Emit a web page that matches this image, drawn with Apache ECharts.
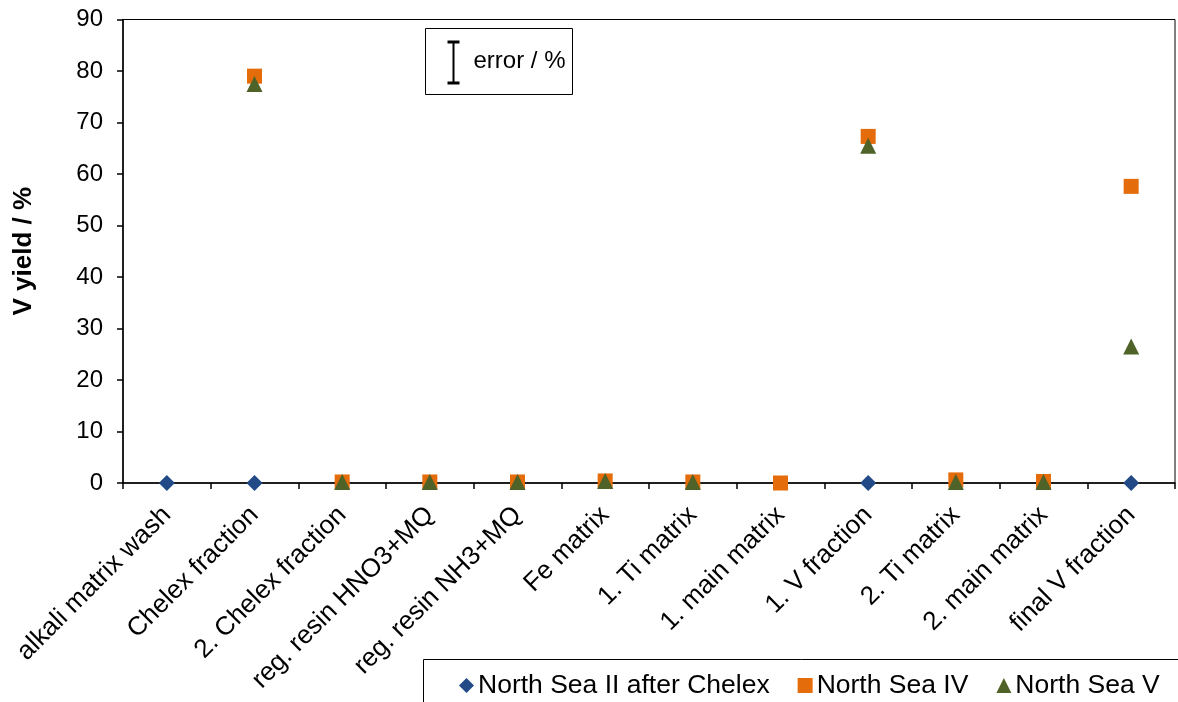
<!DOCTYPE html>
<html>
<head>
<meta charset="utf-8">
<script src="https://cdn.jsdelivr.net/npm/echarts@6/dist/echarts.min.js"></script>
<style>
  html, body { margin: 0; padding: 0; background: #fff; }
  #chart { width: 1178px; height: 702px; }
</style>
</head>
<body>
<div id="chart"></div>
<script>
// Separation steps along the x axis
const steps = [
  'alkali matrix wash', 'Chelex fraction', '2. Chelex fraction',
  'reg. resin HNO3+MQ', 'reg. resin NH3+MQ', 'Fe matrix',
  '1. Ti matrix', '1. main matrix', '1. V fraction',
  '2. Ti matrix', '2. main matrix', 'final V fraction'
];

// V yield (%) per step; null where the sample was not measured
const northSeaII = [0, 0, null, null, null, null, null, null, 0, null, null, 0];
const northSeaIV = [null, 79.0, 0.2, 0.2, 0.2, 0.4, 0.2, 0.0, 67.3, 0.6, 0.3, 57.6];
const northSeaV  = [null, 77.5, 0.2, 0.2, 0.2, 0.4, 0.2, null, 65.5, 0.2, 0.2, 26.5];

const yTicks = { min: 0, max: 90, interval: 10 };

const FONT = 'Liberation Sans, Arial, sans-serif';

const chart = echarts.init(document.getElementById('chart'), null, { renderer: 'canvas' });

chart.setOption({
  animation: false,
  backgroundColor: '#fff',
  grid: {
    left: 123, right: 3, top: 19.5, bottom: 219,
    show: true, borderColor: '#000', borderWidth: 1, backgroundColor: 'transparent'
  },
  xAxis: {
    type: 'category',
    data: steps,
    boundaryGap: true,
    axisLine: { lineStyle: { color: '#000', width: 1.5 } },
    axisTick: { show: true, inside: false, length: 6, alignWithLabel: false, lineStyle: { color: '#000', width: 1.5 } },
    axisLabel: {
      interval: 0, rotate: 45, margin: 28,
      color: '#000', fontFamily: FONT, fontSize: 26
    },
    splitLine: { show: false }
  },
  yAxis: {
    type: 'value',
    min: yTicks.min, max: yTicks.max, interval: yTicks.interval,
    name: 'V yield / %',
    nameLocation: 'middle',
    nameRotate: 90,
    nameGap: 86,
    nameTextStyle: { color: '#000', fontFamily: FONT, fontSize: 26, fontWeight: 'bold' },
    axisLine: { show: true, lineStyle: { color: '#000', width: 1.5 } },
    axisTick: { show: true, length: 6, lineStyle: { color: '#000', width: 1.5 } },
    axisLabel: { margin: 20, color: '#000', fontFamily: FONT, fontSize: 24 },
    splitLine: { show: false }
  },
  legend: {
    left: 454, top: 667,
    itemGap: 28, itemWidth: 15, itemHeight: 15,
    textStyle: { color: '#000', fontFamily: FONT, fontSize: 26.5, padding: [0, 0, 0, -1] },
    data: [
      { name: 'North Sea II after Chelex', icon: 'diamond' },
      { name: 'North Sea IV', icon: 'rect' },
      { name: 'North Sea V', icon: 'triangle' }
    ]
  },
  graphic: [
    // frame around the series legend
    {
      type: 'rect', left: 421, top: 657,
      shape: { width: 780, height: 60 },
      style: { fill: 'none', stroke: '#000', lineWidth: 1 }, silent: true
    },
    // error-bar key box
    {
      type: 'group', left: 425, top: 28,
      children: [
        { type: 'rect', shape: { x: 0, y: 0, width: 147, height: 66 }, style: { fill: '#fff', stroke: '#000', lineWidth: 1 } },
        { type: 'line', shape: { x1: 28, y1: 13, x2: 28, y2: 55 }, style: { stroke: '#000', lineWidth: 2 } },
        { type: 'line', shape: { x1: 22, y1: 13.5, x2: 34, y2: 13.5 }, style: { stroke: '#000', lineWidth: 3 } },
        { type: 'line', shape: { x1: 22, y1: 54.5, x2: 34, y2: 54.5 }, style: { stroke: '#000', lineWidth: 3 } },
        { type: 'text', x: 48, y: 33, style: { text: 'error / %', fill: '#000', font: '24px ' + FONT, verticalAlign: 'middle' } }
      ]
    }
  ],
  series: [
    {
      name: 'North Sea II after Chelex', type: 'scatter', data: northSeaII,
      symbol: 'diamond', symbolSize: 16,
      itemStyle: { color: '#214a87', opacity: 1 }
    },
    {
      name: 'North Sea IV', type: 'scatter', data: northSeaIV,
      symbol: 'rect', symbolSize: 15,
      itemStyle: { color: '#e46c0a', opacity: 1 }
    },
    {
      name: 'North Sea V', type: 'scatter', data: northSeaV,
      symbol: 'triangle', symbolSize: 16,
      itemStyle: { color: '#4f6228', opacity: 1 }
    }
  ]
});
</script>
</body>
</html>
